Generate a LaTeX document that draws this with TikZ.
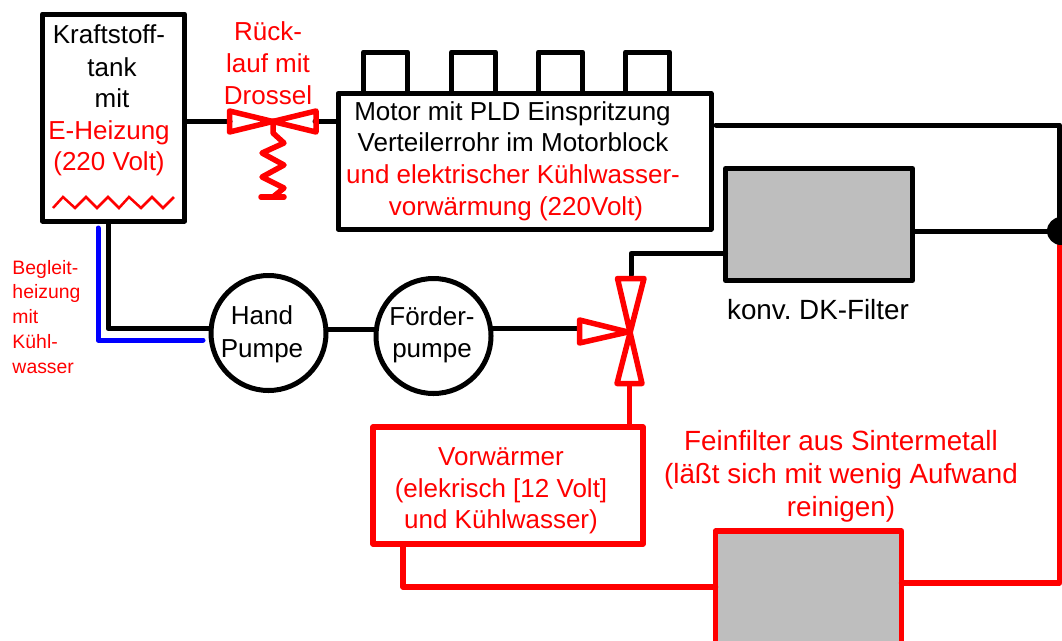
\documentclass[tikz,border=0pt]{standalone}
\usepackage{fontspec}
\setmainfont{Liberation Sans}
\frenchspacing
\definecolor{rd}{RGB}{255,0,0}
\definecolor{fillgray}{RGB}{190,190,190}
\tikzset{
 x=1pt,y=-1pt,
 lab/.style={inner sep=0pt,outer sep=0pt,align=center,font=\fontsize{26}{32}\selectfont},
 baseline lab/.style={lab,anchor=base},
 blk/.style={draw=black,line width=5pt,line join=round,line cap=round},
 red5/.style={draw=rd,line width=5.5pt,line join=round,line cap=round},
 box/.style={rectangle,inner sep=0pt,outer sep=0pt,anchor=north west,blk},
 redbox/.style={rectangle,inner sep=0pt,outer sep=0pt,anchor=north west,red5},
 pump/.style={circle,blk,fill=white,inner sep=0pt,outer sep=0pt,minimum size=115pt},
 dot/.style={circle,fill=black,inner sep=0pt,outer sep=0pt,minimum size=28pt}
}
\begin{document}
\begin{tikzpicture}
\useasboundingbox (0,0) rectangle (1062,640);
\clip (0,0) rectangle (1062,640);
% boxes
\node[box,minimum width=142pt,minimum height=207pt] (tank) at (42.5,14) {};
\foreach \n/\x in {c1/363.5,c2/451.5,c3/538.5,c4/625.5}
  \node[box,minimum width=44pt,minimum height=41pt] (\n) at (\x,52) {};
\node[box,minimum width=373pt,minimum height=135.5pt] (motor) at (338,93.5) {};
\node[box,fill=fillgray,minimum width=187pt,minimum height=112pt] (dk) at (725.5,168.5) {};
\node[redbox,fill=fillgray,minimum width=186pt,minimum height=160pt] (fein) at (715.5,531) {};
\node[redbox,minimum width=270pt,minimum height=117pt] (vor) at (373,427) {};
\node[pump] (hand) at (268.5,333) {};
\node[pump] (foerder) at (433.5,336) {};
\coordinate (junc) at (1061,231);
% coordinates
\coordinate (v1) at (230,121);
\coordinate (v2) at (315,121);
\coordinate (w1) at (578,328);
\coordinate (w2) at (631,275);
\coordinate (w3) at (629.5,384);
\coordinate (ret) at (716,125);
% black lines
\draw[blk] (tank.east |- v1) -- (v1);
\draw[blk] (v2) -- (motor.west |- v2);
\draw[blk] (ret) -- (1059.5,125) -- (1059.5,231);
\draw[blk] (dk.east |- junc) -- (junc);
\draw[blk] (108,222) -- (108,328.5) -- (hand.west |- 0,328.5);
\draw[blk] (hand.east |- 0,329) -- (foerder.west |- 0,329);
\draw[blk] (foerder.east |- w1) -- (w1);
\draw[blk] (w2) -- (w2 |- 0,253.5) -- (dk.west |- 0,253.5);
% blue
\draw[draw=blue,line width=5pt,line cap=round,line join=round] (98,228) -- (98,340) -- (203,340);
% red
\draw[red5] (1059.5,245) -- (1059.5,583) -- (fein.east |- 0,583);
\draw[red5] (403,546) -- (403,587) -- (fein.west |- 0,587);
\draw[red5] (w3) -- (w3 |- vor.north);
% valves
\draw[red5] (229.5,111) -- (316,132) -- (316,111) -- (229.5,132) -- cycle;
\draw[red5] (273,121) -- (273,133) -- (284,143) -- (262,153) -- (284,165) -- (262,177) -- (284,188) -- (273,197);
\draw[red5] (261,197) -- (284,197);
\draw[red5] (617.5,278.5) -- (644,278.5) -- (617,383.5) -- (642,383.5) -- cycle;
\draw[red5] (579.5,320) -- (628,332) -- (579.5,343) -- cycle;
% heater
\draw[draw=rd,line width=2.5pt,line join=miter] (53,208) -- (63,197) -- (75,208) -- (86,197) -- (97,208) -- (108,197) -- (119,208) -- (129,197) -- (141,208) -- (152,197) -- (163,208) -- (174,197);
% text
\node[baseline lab] (t1) at (109,43) {Kraftstoff-};
\node[baseline lab] (t2) at (112,76) {tank};
\node[baseline lab] (t3) at (112,107) {mit};
\node[baseline lab,text=rd] (t4) at (109,139) {E-Heizung};
\node[baseline lab,text=rd] (t5) at (109,170) {(220 Volt)};
\node[lab,text=rd,anchor=north] (t6) at (268,22) {Rück-\\lauf mit\\Drossel};
\node[baseline lab] (m1) at (512.5,120) {Motor mit PLD Einspritzung};
\node[baseline lab] (m2) at (513,151) {Verteilerrohr im Motorblock};
\node[baseline lab,text=rd] (m3) at (513,183) {und elektrischer Kühlwasser-};
\node[baseline lab,text=rd] (m4) at (516,215) {vorwärmung (220Volt)};
\node[lab,font=\fontsize{19.4}{24.75}\selectfont,text=rd,align=left,anchor=north west] (b) at (12.5,260) {Begleit-\\heizung\\mit\\Kühl-\\wasser};
\node[lab,font=\fontsize{26}{33}\selectfont] (hp) at (262,334) {Hand\\Pumpe};
\node[lab,font=\fontsize{26}{32}\selectfont] (fp) at (432,335) {Förder-\\pumpe};
\node[baseline lab,font=\fontsize{27.8}{32}\selectfont] (dkl) at (818,319) {konv. DK-Filter};
\node[lab,font=\fontsize{26}{31.5}\selectfont,text=rd] (vt) at (501,491) {Vorwärmer\\(elekrisch [12 Volt]\\und Kühlwasser)};
\node[lab,font=\fontsize{27.8}{33}\selectfont,text=rd] (ft) at (841,476.5) {Feinfilter aus Sintermetall\\(läßt sich mit wenig Aufwand\\reinigen)};
\node[dot] (jd) at (junc) {};
\end{tikzpicture}
\end{document}
